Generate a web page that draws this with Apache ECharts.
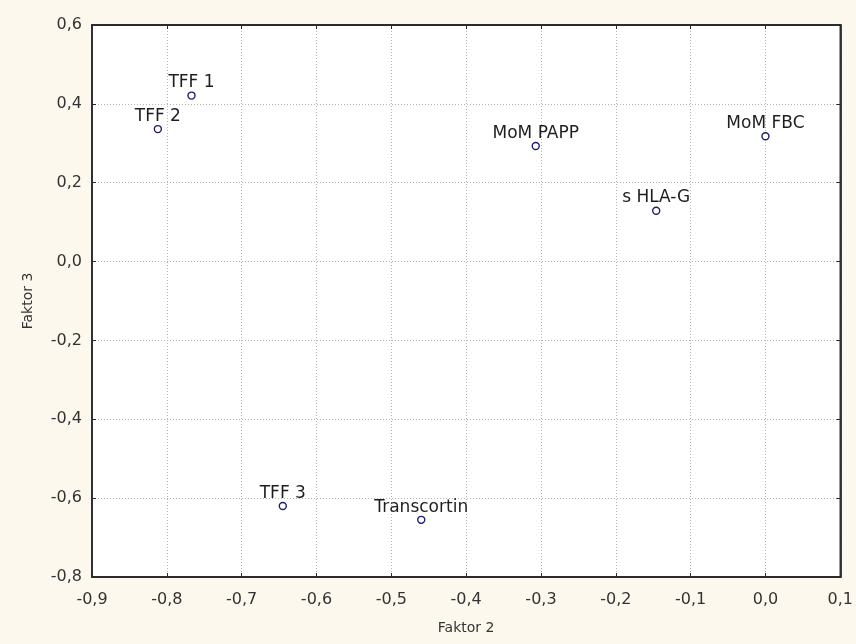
<!DOCTYPE html>
<html>
<head>
<meta charset="utf-8">
<script src="https://cdn.jsdelivr.net/npm/echarts@6/dist/echarts.min.js"></script>
<style>
  html, body { margin: 0; padding: 0; background: #fcf8ed; }
  #chart { width: 856px; height: 644px; }
</style>
</head>
<body>
<div id="chart"></div>
<script>
// Factor loadings: Faktor 2 (x) against Faktor 3 (y)
const variableNames = ['TFF 1', 'TFF 2', 'MoM PAPP', 'MoM FBC', 's HLA-G', 'TFF 3', 'Transcortin'];
const faktor2 = [-0.767, -0.812, -0.307, 0.000, -0.146, -0.645, -0.460];
const faktor3 = [0.421, 0.336, 0.293, 0.318, 0.129, -0.620, -0.655];

const xAxisName = 'Faktor 2';
const yAxisName = 'Faktor 3';

const points = variableNames.map((n, i) => ({ name: n, value: [faktor2[i], faktor3[i]] }));

const fontFamily = '"DejaVu Sans", Arial, sans-serif';
const commaFmt = v => v.toFixed(1).replace('.', ',');

const gridLine = { show: true, lineStyle: { color: '#b4b4b4', type: [1, 2], width: 1 } };
const frameLine = { show: true, onZero: false, lineStyle: { color: '#2b2b2b', width: 1.8 } };
const innerTick = { show: true, inside: true, length: 4, lineStyle: { color: '#2b2b2b' } };

const chart = echarts.init(document.getElementById('chart'), null, { renderer: 'canvas' });
chart.setOption({
  backgroundColor: '#fcf8ed',
  animation: false,
  grid: {
    left: 92, right: 14, top: 25, bottom: 67,
    show: true, backgroundColor: '#ffffff', borderColor: '#2b2b2b', borderWidth: 1.5
  },
  xAxis: [{
    type: 'value', min: -0.9, max: 0.1, interval: 0.1, position: 'bottom',
    name: xAxisName, nameLocation: 'middle', nameGap: 44,
    nameTextStyle: { fontFamily, fontSize: 14, color: '#333' },
    axisLine: frameLine, axisTick: innerTick, splitLine: gridLine,
    axisLabel: { formatter: commaFmt, fontFamily, fontSize: 16, color: '#333', margin: 15 }
  }, {
    type: 'value', min: -0.9, max: 0.1, interval: 0.1, position: 'top',
    axisLine: frameLine, axisTick: innerTick, splitLine: { show: false },
    axisLabel: { show: false }
  }],
  yAxis: [{
    type: 'value', min: -0.8, max: 0.6, interval: 0.2, position: 'left',
    name: yAxisName, nameLocation: 'middle', nameGap: 57, nameRotate: 90,
    nameTextStyle: { fontFamily, fontSize: 14, color: '#333' },
    axisLine: frameLine, axisTick: innerTick, splitLine: gridLine,
    axisLabel: { formatter: commaFmt, fontFamily, fontSize: 16, color: '#333', margin: 10 }
  }, {
    type: 'value', min: -0.8, max: 0.6, interval: 0.2, position: 'right',
    axisLine: frameLine, axisTick: innerTick, splitLine: { show: false },
    axisLabel: { show: false }
  }],
  series: [{
    type: 'scatter',
    data: points,
    symbol: 'circle',
    symbolSize: 7,
    itemStyle: { color: '#ffffff', borderColor: '#1c1c6e', borderWidth: 1.4, opacity: 1 },
    label: {
      show: true, position: 'top', distance: 0,
      formatter: p => p.name,
      fontFamily, fontSize: 17, color: '#1e1e1e', opacity: 1
    }
  }]
});
</script>
</body>
</html>
